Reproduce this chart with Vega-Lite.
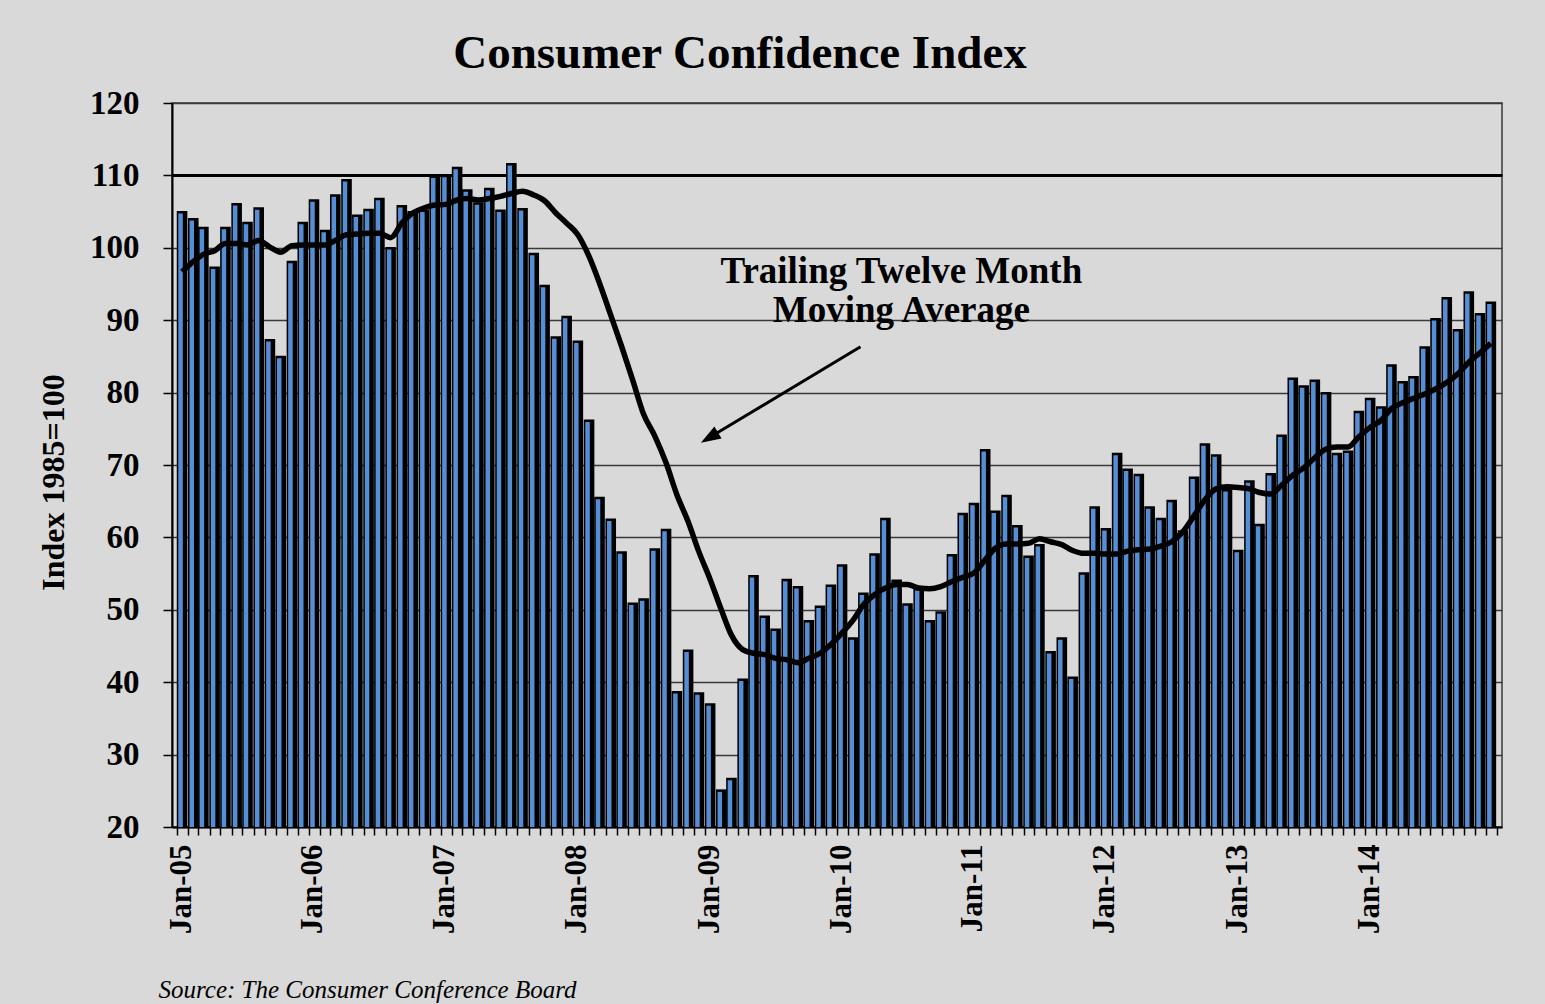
{
  "$schema": "https://vega.github.io/schema/vega-lite/v6.json",
  "width": 1330,
  "height": 724,
  "autosize": {"type": "none"},
  "padding": {"left": 172, "top": 103, "right": 43, "bottom": 177},
  "background": "#d9d9d9",
  "config": {"font": "Liberation Serif", "view": {"stroke": "#3a3a3a", "strokeWidth": 1.5}},
  "title": {"text": "Consumer Confidence Index", "font": "Liberation Serif", "fontSize": 47, "fontWeight": "bold", "color": "#000000", "anchor": "middle", "dx": -97, "offset": 33, "dy": 61, "baseline": "alphabetic"},
  "datasets": {
    "cci": [
      {"date":"2005-01-15","cci":105.1,"ma":96.7},{"date":"2005-02-15","cci":104.1,"ma":98.1},{"date":"2005-03-15","cci":102.9,"ma":99.1},{"date":"2005-04-15","cci":97.4,"ma":99.6},{"date":"2005-05-15","cci":102.9,"ma":100.6},{"date":"2005-06-15","cci":106.2,"ma":100.6},{"date":"2005-07-15","cci":103.6,"ma":100.4},{"date":"2005-08-15","cci":105.6,"ma":101.0},{"date":"2005-09-15","cci":87.4,"ma":100.1},{"date":"2005-10-15","cci":85.1,"ma":99.4},{"date":"2005-11-15","cci":98.2,"ma":100.3},{"date":"2005-12-15","cci":103.6,"ma":100.4},
      {"date":"2006-01-15","cci":106.7,"ma":100.4},{"date":"2006-02-15","cci":102.5,"ma":100.4},{"date":"2006-03-15","cci":107.4,"ma":101.0},{"date":"2006-04-15","cci":109.5,"ma":101.8},{"date":"2006-05-15","cci":104.6,"ma":101.9},{"date":"2006-06-15","cci":105.4,"ma":102.0},{"date":"2006-07-15","cci":106.9,"ma":102.0},{"date":"2006-08-15","cci":100.1,"ma":101.4},{"date":"2006-09-15","cci":105.9,"ma":103.4},{"date":"2006-10-15","cci":105.1,"ma":104.8},{"date":"2006-11-15","cci":105.3,"ma":105.5},{"date":"2006-12-15","cci":110.0,"ma":105.9},
      {"date":"2007-01-15","cci":110.1,"ma":106.0},{"date":"2007-02-15","cci":111.2,"ma":106.6},{"date":"2007-03-15","cci":108.1,"ma":106.8},{"date":"2007-04-15","cci":106.3,"ma":106.6},{"date":"2007-05-15","cci":108.3,"ma":106.8},{"date":"2007-06-15","cci":105.3,"ma":107.1},{"date":"2007-07-15","cci":111.7,"ma":107.5},{"date":"2007-08-15","cci":105.5,"ma":107.8},{"date":"2007-09-15","cci":99.3,"ma":107.3},{"date":"2007-10-15","cci":94.9,"ma":106.5},{"date":"2007-11-15","cci":87.8,"ma":104.8},{"date":"2007-12-15","cci":90.6,"ma":103.4},
      {"date":"2008-01-15","cci":87.2,"ma":101.8},{"date":"2008-02-15","cci":76.3,"ma":98.8},{"date":"2008-03-15","cci":65.6,"ma":95.1},{"date":"2008-04-15","cci":62.6,"ma":90.7},{"date":"2008-05-15","cci":58.1,"ma":86.4},{"date":"2008-06-15","cci":51.0,"ma":81.7},{"date":"2008-07-15","cci":51.6,"ma":77.0},{"date":"2008-08-15","cci":58.5,"ma":74.0},{"date":"2008-09-15","cci":61.2,"ma":70.3},{"date":"2008-10-15","cci":38.8,"ma":65.9},{"date":"2008-11-15","cci":44.5,"ma":62.2},{"date":"2008-12-15","cci":38.6,"ma":58.0},
      {"date":"2009-01-15","cci":37.1,"ma":54.2},{"date":"2009-02-15","cci":25.2,"ma":50.0},{"date":"2009-03-15","cci":26.8,"ma":46.5},{"date":"2009-04-15","cci":40.5,"ma":44.5},{"date":"2009-05-15","cci":54.8,"ma":44.0},{"date":"2009-06-15","cci":49.2,"ma":43.8},{"date":"2009-07-15","cci":47.4,"ma":43.3},{"date":"2009-08-15","cci":54.3,"ma":43.1},{"date":"2009-09-15","cci":53.3,"ma":42.7},{"date":"2009-10-15","cci":48.6,"ma":43.3},{"date":"2009-11-15","cci":50.6,"ma":44.0},{"date":"2009-12-15","cci":53.5,"ma":45.2},
      {"date":"2010-01-15","cci":56.3,"ma":46.8},{"date":"2010-02-15","cci":46.2,"ma":48.6},{"date":"2010-03-15","cci":52.4,"ma":50.7},{"date":"2010-04-15","cci":57.8,"ma":52.1},{"date":"2010-05-15","cci":62.7,"ma":53.0},{"date":"2010-06-15","cci":54.2,"ma":53.5},{"date":"2010-07-15","cci":50.9,"ma":53.5},{"date":"2010-08-15","cci":53.0,"ma":53.0},{"date":"2010-09-15","cci":48.6,"ma":52.9},{"date":"2010-10-15","cci":49.8,"ma":53.2},{"date":"2010-11-15","cci":57.7,"ma":53.9},{"date":"2010-12-15","cci":63.4,"ma":54.5},
      {"date":"2011-01-15","cci":64.8,"ma":55.1},{"date":"2011-02-15","cci":72.2,"ma":56.9},{"date":"2011-03-15","cci":63.7,"ma":58.5},{"date":"2011-04-15","cci":65.9,"ma":59.1},{"date":"2011-05-15","cci":61.7,"ma":59.1},{"date":"2011-06-15","cci":57.5,"ma":59.2},{"date":"2011-07-15","cci":59.1,"ma":59.8},{"date":"2011-08-15","cci":44.3,"ma":59.4},{"date":"2011-09-15","cci":46.2,"ma":59.0},{"date":"2011-10-15","cci":40.8,"ma":58.2},{"date":"2011-11-15","cci":55.2,"ma":57.8},{"date":"2011-12-15","cci":64.3,"ma":57.8},
      {"date":"2012-01-15","cci":61.3,"ma":57.7},{"date":"2012-02-15","cci":71.7,"ma":57.7},{"date":"2012-03-15","cci":69.5,"ma":58.1},{"date":"2012-04-15","cci":68.8,"ma":58.3},{"date":"2012-05-15","cci":64.3,"ma":58.4},{"date":"2012-06-15","cci":62.7,"ma":58.8},{"date":"2012-07-15","cci":65.2,"ma":59.4},{"date":"2012-08-15","cci":61.0,"ma":60.8},{"date":"2012-09-15","cci":68.4,"ma":63.0},{"date":"2012-10-15","cci":73.0,"ma":65.2},{"date":"2012-11-15","cci":71.5,"ma":66.7},{"date":"2012-12-15","cci":66.7,"ma":67.0},
      {"date":"2013-01-15","cci":58.3,"ma":66.9},{"date":"2013-02-15","cci":67.9,"ma":66.7},{"date":"2013-03-15","cci":61.9,"ma":66.2},{"date":"2013-04-15","cci":68.9,"ma":66.0},{"date":"2013-05-15","cci":74.2,"ma":67.2},{"date":"2013-06-15","cci":82.1,"ma":68.6},{"date":"2013-07-15","cci":81.0,"ma":69.6},{"date":"2013-08-15","cci":81.8,"ma":71.0},{"date":"2013-09-15","cci":80.1,"ma":72.2},{"date":"2013-10-15","cci":71.7,"ma":72.5},{"date":"2013-11-15","cci":72.0,"ma":72.5},{"date":"2013-12-15","cci":77.5,"ma":73.9},
      {"date":"2014-01-15","cci":79.3,"ma":75.2},{"date":"2014-02-15","cci":78.1,"ma":76.2},{"date":"2014-03-15","cci":83.9,"ma":77.8},{"date":"2014-04-15","cci":81.6,"ma":78.6},{"date":"2014-05-15","cci":82.3,"ma":79.2},{"date":"2014-06-15","cci":86.4,"ma":79.8},{"date":"2014-07-15","cci":90.3,"ma":80.5},{"date":"2014-08-15","cci":93.2,"ma":81.4},{"date":"2014-09-15","cci":88.8,"ma":82.6},{"date":"2014-10-15","cci":94.0,"ma":84.2},{"date":"2014-11-15","cci":91.0,"ma":85.5},{"date":"2014-12-15","cci":92.6,"ma":86.8}
    ],
    "note": [{"date": "2010-06-28", "value": 95.1, "label": "Trailing Twelve Month\nMoving Average"}],
    "arrow": [{"date": "2010-03-07", "value": 86.34}, {"date": "2009-01-13", "value": 73.79}],
    "head": [{"date": "2009-01-13", "value": 73.79}]
  },
  "layer": [
    {
      "data": {"name": "cci"},
      "mark": {"type": "bar", "color": "#000000", "size": 10.6},
      "encoding": {
        "x": {
          "field": "date", "type": "temporal",
          "scale": {"type": "utc", "domain": [{"year": 2005, "month": 1, "date": 1, "utc": true}, {"year": 2015, "month": 1, "date": 1, "utc": true}]},
          "axis": {
            "title": "Source: The Consumer Conference Board",
            "titleFont": "Liberation Serif", "titleFontStyle": "italic", "titleFontWeight": "normal", "titleFontSize": 25, "titleColor": "#000000",
            "titleX": -14, "titleY": 170, "titleAlign": "left", "titleBaseline": "alphabetic", "titleAngle": 0,
            "tickCount": {"interval": "month", "step": 1},
            "labelExpr": "(utcmonth(datum.value) == 0 && utcyear(datum.value) < 2015) ? utcFormat(datum.value, '%b-%y') : ''",
            "labelAngle": -90, "labelFontSize": 31, "labelFontWeight": "bold", "labelColor": "#000000",
            "labelPadding": 9, "labelOffset": 4, "labelOverlap": false, "labelBound": false, "labelFlush": false,
            "tickColor": "#000000", "tickSize": 8, "tickWidth": 1.5,
            "domainColor": "#000000", "domainWidth": 2, "grid": false
          }
        },
        "y": {
          "field": "cci", "type": "quantitative",
          "scale": {"domain": [20, 120], "nice": false, "zero": false},
          "axis": {
            "title": "Index 1985=100",
            "titleFontSize": 32, "titleFontWeight": "bold", "titleColor": "#000000",
            "titleX": -109, "titleY": 379, "titleBaseline": "alphabetic", "titleAngle": -90, "titleAlign": "center",
            "values": [20, 30, 40, 50, 60, 70, 80, 90, 100, 110, 120],
            "labelFontSize": 33, "labelFontWeight": "bold", "labelColor": "#000000", "labelPadding": 24,
            "tickColor": "#000000", "tickSize": 9, "tickWidth": 1.5,
            "domainColor": "#000000", "domainWidth": 2,
            "grid": true,
            "gridColor": {"condition": {"test": "datum.value == 110", "value": "#000000"}, "value": "#3a3a3a"},
            "gridWidth": {"condition": {"test": "datum.value == 110", "value": 3}, "value": 1.3}
          }
        },
        "y2": {"datum": 20}
      }
    },
    {
      "data": {"name": "cci"},
      "mark": {"type": "bar", "color": "#558ED5", "size": 4.5, "xOffset": -1.5, "yOffset": 2.5},
      "encoding": {
        "x": {"field": "date", "type": "temporal"},
        "y": {"field": "cci", "type": "quantitative"},
        "y2": {"datum": 20}
      }
    },
    {
      "data": {"name": "cci"},
      "mark": {"type": "line", "color": "#000000", "strokeWidth": 5.5, "interpolate": "monotone"},
      "encoding": {
        "x": {"field": "date", "type": "temporal"},
        "y": {"field": "ma", "type": "quantitative"}
      }
    },
    {
      "data": {"name": "arrow"},
      "mark": {"type": "line", "color": "#000000", "strokeWidth": 3},
      "encoding": {
        "x": {"field": "date", "type": "temporal"},
        "y": {"field": "value", "type": "quantitative"}
      }
    },
    {
      "data": {"name": "head"},
      "mark": {"type": "point", "shape": "M0,-1L0.7,1L-0.7,1Z", "size": 400, "angle": 239, "filled": true, "color": "#000000", "opacity": 1, "strokeWidth": 0},
      "encoding": {
        "x": {"field": "date", "type": "temporal"},
        "y": {"field": "value", "type": "quantitative"}
      }
    },
    {
      "data": {"name": "note"},
      "mark": {"type": "text", "font": "Liberation Serif", "fontSize": 37, "fontWeight": "bold", "color": "#000000", "align": "center", "baseline": "alphabetic", "lineBreak": "\n", "lineHeight": 39},
      "encoding": {
        "x": {"field": "date", "type": "temporal"},
        "y": {"field": "value", "type": "quantitative"},
        "text": {"field": "label"}
      }
    }
  ]
}
